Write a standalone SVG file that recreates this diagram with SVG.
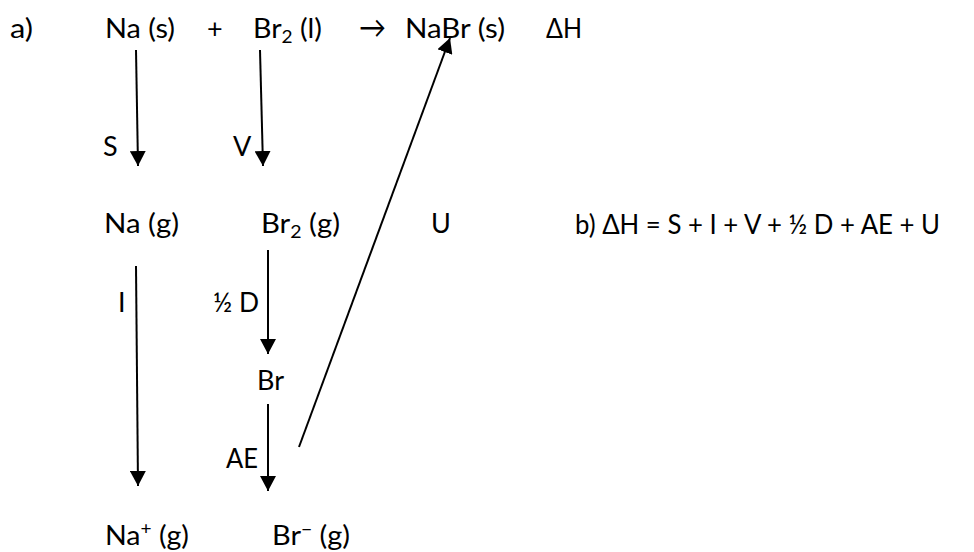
<svg xmlns="http://www.w3.org/2000/svg" width="974" height="552" viewBox="0 0 974 552">
<style>
text{font-family:Lato,"Liberation Sans","DejaVu Sans",sans-serif;font-size:27px;fill:#000}
.sub{font-size:18px}
.sup{font-size:18px}
.c{stroke:#000;stroke-width:2;fill:none;marker-end:url(#ah)}
</style>
<defs>
<marker id="ah" markerUnits="userSpaceOnUse" markerWidth="16" markerHeight="16" viewBox="0 0 16 16" refX="15" refY="8" orient="auto">
<path d="M0,0 L15,8 L0,16 z" fill="#000"/>
</marker>
</defs>
<rect width="974" height="552" fill="#fff"/>
<g id="label-a"><text x="10" y="38" textLength="23" lengthAdjust="spacingAndGlyphs">a)</text></g>
<g id="na-s"><text x="105" y="38" textLength="70" lengthAdjust="spacingAndGlyphs">Na (s)</text></g>
<g id="plus"><text x="207" y="38">+</text></g>
<g id="br2-l"><text x="253" y="38" textLength="69" lengthAdjust="spacingAndGlyphs">Br<tspan class="sub" dy="5">2</tspan><tspan dy="-5"> (l)</tspan></text></g>
<g id="arrow-sym"><text x="359" y="38" style="font-size:30px" textLength="27" lengthAdjust="spacingAndGlyphs">→</text></g>
<g id="nabr-s"><text x="405" y="38" textLength="100" lengthAdjust="spacingAndGlyphs">NaBr (s)</text></g>
<g id="dh"><text x="546" y="38" textLength="36" lengthAdjust="spacingAndGlyphs">ΔH</text></g>
<g id="na-g"><text x="104" y="233" textLength="75" lengthAdjust="spacingAndGlyphs">Na (g)</text></g>
<g id="br2-g"><text x="261" y="233" textLength="79" lengthAdjust="spacingAndGlyphs">Br<tspan class="sub" dy="5">2</tspan><tspan dy="-5"> (g)</tspan></text></g>
<g id="u-label"><text x="431" y="233">U</text></g>
<g id="eq-b"><text x="575" y="234" textLength="365" lengthAdjust="spacingAndGlyphs">b) ΔH = S + I + V + ½ D + AE + U</text></g>
<g id="br"><text x="257" y="390">Br</text></g>
<g id="na-plus"><text x="105" y="545" textLength="84" lengthAdjust="spacingAndGlyphs">Na<tspan class="sup" dy="-10">+</tspan><tspan dy="10"> (g)</tspan></text></g>
<g id="br-minus"><text x="272" y="545" textLength="78" lengthAdjust="spacingAndGlyphs">Br<tspan class="sup" dy="-10">−</tspan><tspan dy="10"> (g)</tspan></text></g>
<g id="connectors">
<line class="c" x1="136" y1="50" x2="138" y2="166"/>
<line class="c" x1="260" y1="50" x2="263" y2="166"/>
<line class="c" x1="136" y1="266" x2="138" y2="486"/>
<line class="c" x1="268" y1="250" x2="268" y2="354"/>
<line class="c" x1="268" y1="404" x2="268" y2="491"/>
<line class="c" x1="299" y1="447" x2="450" y2="38"/>
<text x="103" y="156">S</text>
<text x="233" y="156">V</text>
<text x="118" y="312">I</text>
<text x="213" y="312" textLength="46" lengthAdjust="spacingAndGlyphs">½ D</text>
<text x="226" y="468" textLength="32" lengthAdjust="spacingAndGlyphs">AE</text>
</g>
</svg>
